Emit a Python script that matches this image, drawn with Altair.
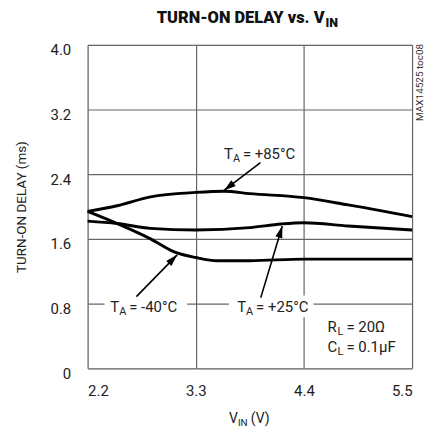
import math
import altair as alt
import pandas as pd

# ---- data ----
vin_85 = [2.2, 2.5, 2.84, 3.3, 3.59, 3.85, 4.4, 4.85, 5.5]
delay_85 = [1.94, 2.01, 2.12, 2.175, 2.19, 2.16, 2.11, 2.02, 1.875]

vin_25 = [2.2, 2.5, 2.84, 3.3, 3.85, 4.17, 4.4, 4.85, 5.5]
delay_25 = [1.82, 1.79, 1.73, 1.71, 1.74, 1.785, 1.80, 1.76, 1.71]

vin_m40 = [2.2, 2.5, 2.84, 3.08, 3.3, 3.52, 3.85, 4.4, 5.5]
delay_m40 = [1.94, 1.79, 1.60, 1.44, 1.37, 1.33, 1.33, 1.35, 1.35]

x_ticks = [2.2, 3.3, 4.4, 5.5]
y_ticks = [0, 0.8, 1.6, 2.4, 3.2, 4.0]

# ---- layout ----
W, H = 326, 325
XMIN, XMAX, YMIN, YMAX = 2.2, 5.5, 0.0, 4.0
PXV = W / (XMAX - XMIN)
PXY = H / (YMAX - YMIN)
FONT = "Roboto, 'Liberation Sans', sans-serif"

rows = []
for name, xs, ys in [("85", vin_85, delay_85), ("25", vin_25, delay_25), ("-40", vin_m40, delay_m40)]:
    for a, b in zip(xs, ys):
        rows.append({"series": name, "vin": a, "delay": b})
df = pd.DataFrame(rows)

xscale = alt.Scale(domain=[XMIN, XMAX], nice=False, zero=False)
yscale = alt.Scale(domain=[YMIN, YMAX], nice=False, zero=False)

lines = alt.Chart(df).mark_line(color="black", strokeWidth=2.9, interpolate="monotone").encode(
    x=alt.X("vin:Q", scale=xscale, axis=alt.Axis(
        values=x_ticks, format=".1f", title=None, grid=True, ticks=False,
        labelPadding=15, labelFontSize=15, labelFont=FONT, labelColor="#222",
        gridColor="#666", gridWidth=1.2, domain=False)),
    y=alt.Y("delay:Q", scale=yscale, axis=alt.Axis(
        values=y_ticks, title="TURN-ON DELAY (ms)", grid=True, ticks=False,
        labelExpr="datum.value == 0 ? '0' : format(datum.value, '.1f')",
        labelPadding=17, labelFontSize=15, labelFont=FONT, labelColor="#222",
        labelBaseline="middle", labelOffset=5,
        titleFont=FONT, titleFontSize=13.5, titleFontWeight="normal", titleColor="#222",
        titleX=-66, titleY=H / 2, titleAngle=270, titleAlign="center", titleBaseline="middle",
        gridColor="#666", gridWidth=1.2, domain=False)),
    detail="series:N",
)

# white backgrounds behind the in-plot labels (breaking the grid lines)
bg = pd.DataFrame([
    {"x1": 2.372, "x2": 3.212, "y1": 0.63, "y2": 0.90},
    {"x1": 3.637, "x2": 4.498, "y1": 0.63, "y2": 0.90},
])
bgs = alt.Chart(bg).mark_rect(color="white").encode(
    x=alt.X("x1:Q", scale=xscale), x2="x2:Q",
    y=alt.Y("y1:Q", scale=yscale), y2="y2:Q")

# arrows: tail -> tip
arrows = pd.DataFrame([
    {"x1": 3.958, "y1": 2.544, "x2": 3.587, "y2": 2.20},
    {"x1": 2.696, "y1": 0.886, "x2": 3.111, "y2": 1.403},
    {"x1": 3.961, "y1": 0.874, "x2": 4.18, "y2": 1.76},
])
arrows["angle"] = [
    (math.degrees(math.atan2((r.x2 - r.x1) * PXV, (r.y2 - r.y1) * PXY)) + 360) % 360
    for r in arrows.itertuples()
]
shafts = alt.Chart(arrows).mark_rule(color="black", strokeWidth=1.6).encode(
    x=alt.X("x1:Q", scale=xscale), y=alt.Y("y1:Q", scale=yscale), x2="x2:Q", y2="y2:Q")
heads = alt.Chart(arrows).mark_point(
    shape="M0,0L0.6,2L-0.6,2Z", filled=True, color="black", size=144, opacity=1, strokeWidth=0
).encode(x=alt.X("x2:Q", scale=xscale), y=alt.Y("y2:Q", scale=yscale), angle=alt.Angle("angle:Q", scale=None))

# labels with subscripts
labels = pd.DataFrame([
    {"x": 3.587, "y": 2.593, "main": "T", "sub": "A", "rest": "= +85°C", "d1": 9, "d2": 19},
    {"x": 2.431, "y": 0.693, "main": "T", "sub": "A", "rest": "= -40°C", "d1": 9, "d2": 19},
    {"x": 3.721, "y": 0.693, "main": "T", "sub": "A", "rest": "= +25°C", "d1": 9, "d2": 19},
    {"x": 4.64, "y": 0.447, "main": "R", "sub": "L", "rest": "= 20Ω", "d1": 10, "d2": 19},
    {"x": 4.64, "y": 0.20, "main": "C", "sub": "L", "rest": "= 0.1µF", "d1": 10, "d2": 19},
])
ltext = []
for r in labels.itertuples():
    one = pd.DataFrame([r._asdict()])
    common = dict(x=alt.X("x:Q", scale=xscale), y=alt.Y("y:Q", scale=yscale))
    ltext.append(alt.Chart(one).mark_text(align="left", baseline="alphabetic", font=FONT,
                                          fontSize=15, color="#222").encode(text="main:N", **common))
    ltext.append(alt.Chart(one).mark_text(align="left", baseline="alphabetic", font=FONT,
                                          fontSize=11, color="#222", dx=r.d1, dy=3).encode(text="sub:N", **common))
    ltext.append(alt.Chart(one).mark_text(align="left", baseline="alphabetic", font=FONT,
                                          fontSize=15, color="#222", dx=r.d2).encode(text="rest:N", **common))

# titles (text marks, for subscripts)
anno = pd.DataFrame([{"t1": "TURN-ON DELAY vs. V", "t2": "IN", "x1": "V", "x2": "IN", "x3": "(V)",
                      "side": "MAX14525 toc08"}])
title_main = alt.Chart(anno).mark_text(align="right", baseline="alphabetic", font=FONT, fontSize=16.5,
                                       fontWeight=900, color="#111").encode(
    text="t1:N", x=alt.value(238), y=alt.value(-22))
title_sub = alt.Chart(anno).mark_text(align="left", baseline="alphabetic", font=FONT, fontSize=12.5,
                                      fontWeight=900, color="#111").encode(
    text="t2:N", x=alt.value(239), y=alt.value(-18))
xt1 = alt.Chart(anno).mark_text(align="left", baseline="alphabetic", font=FONT, fontSize=14,
                                color="#222").encode(text="x1:N", x=alt.value(142), y=alt.value(380))
xt2 = alt.Chart(anno).mark_text(align="left", baseline="alphabetic", font=FONT, fontSize=10,
                                color="#222").encode(text="x2:N", x=alt.value(151), y=alt.value(383))
xt3 = alt.Chart(anno).mark_text(align="left", baseline="alphabetic", font=FONT, fontSize=14,
                                color="#222").encode(text="x3:N", x=alt.value(164), y=alt.value(380))
side = alt.Chart(anno).mark_text(align="right", baseline="middle", angle=270, font=FONT, fontSize=10,
                                 color="#333").encode(text="side:N", x=alt.value(334), y=alt.value(-1))

chart = alt.layer(lines, bgs, shafts, heads, *ltext, title_main, title_sub, xt1, xt2, xt3, side).properties(
    width=W, height=H,
    autosize=alt.AutoSizeParams(type="none"),
    padding={"left": 80, "top": 36, "right": 15, "bottom": 60},
).configure_view(stroke="black", strokeWidth=3).configure(background="white")

chart.save("out.html", embed_options={"renderer": "svg", "actions": False})
